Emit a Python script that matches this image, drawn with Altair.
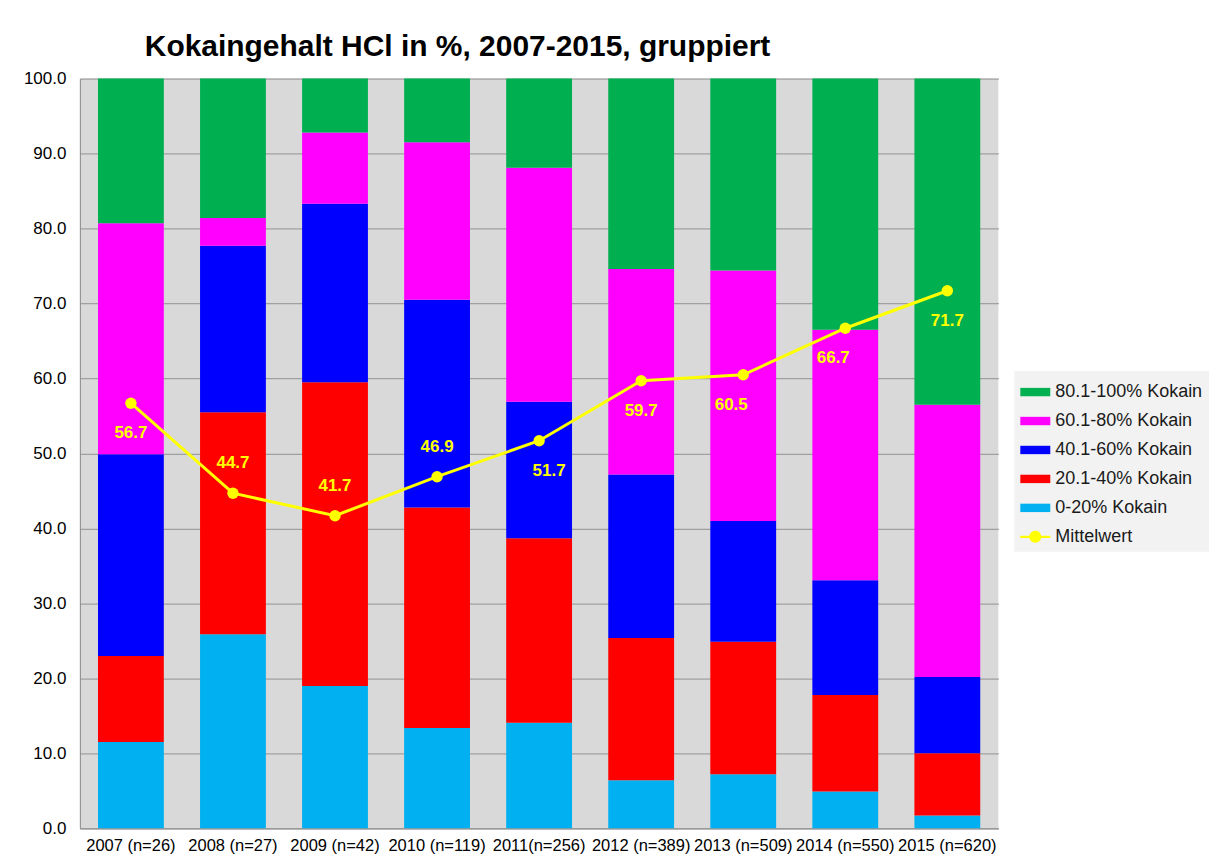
import altair as alt
import pandas as pd

# ---------------- data ----------------
years = ["2007 (n=26)", "2008 (n=27)", "2009 (n=42)", "2010 (n=119)", "2011(n=256)",
         "2012 (n=389)", "2013 (n=509)", "2014 (n=550)", "2015 (n=620)"]
p0_20 = [11.5, 25.9, 19.0, 13.4, 14.1, 6.4, 7.2, 4.9, 1.7]
p20_40 = [11.5, 29.6, 40.5, 29.4, 24.6, 19.0, 17.7, 12.9, 8.3]
p40_60 = [26.9, 22.2, 23.8, 27.7, 18.2, 21.8, 16.1, 15.3, 10.2]
p60_80 = [30.8, 3.7, 9.5, 21.0, 31.2, 27.4, 33.4, 33.4, 36.3]
p80_100 = [19.3, 18.6, 7.2, 8.5, 11.9, 25.4, 25.6, 33.5, 43.5]
mittelwert = [56.7, 44.7, 41.7, 46.9, 51.7, 59.7, 60.5, 66.7, 71.7]
label_place = ["below", "above", "above", "above", "below_r", "below", "below_l", "below_l", "below"]

categories = ["0-20% Kokain", "20.1-40% Kokain", "40.1-60% Kokain",
              "60.1-80% Kokain", "80.1-100% Kokain"]
cat_colors = ["#00b0f0", "#ff0000", "#0000ff", "#ff00ff", "#00b050"]
mean_name = "Mittelwert"
mean_color = "#ffff00"

title_text = "Kokaingehalt HCl in %, 2007-2015, gruppiert"

# ---------------- tables ----------------
series = [p0_20, p20_40, p40_60, p60_80, p80_100]
rows = []
for ci, (cat, vals) in enumerate(zip(categories, series)):
    for y, v in zip(years, vals):
        rows.append({"year": y, "cat": cat, "value": v, "order": ci})
bars_df = pd.DataFrame(rows)
mean_df = pd.DataFrame({"year": years, "mean": mittelwert, "place": label_place})

legend_domain = categories[::-1] + [mean_name]
legend_colors = cat_colors[::-1] + [mean_color]
rect_path = "M-1,-0.28H1V0.28H-1Z"
mean_path = "M-1,-0.08H1V0.08H-1Z M0.4,0A0.4,0.4,0,1,1,-0.4,0A0.4,0.4,0,1,1,0.4,0Z"
legend_shapes = [rect_path] * 5 + [mean_path]

FONT = "Liberation Sans"

x_enc = alt.X("year:N", sort=years, title=None,
              scale=alt.Scale(paddingInner=0.355, paddingOuter=0.1775),
              axis=alt.Axis(labelAngle=0, labelAlign="center", labelBaseline="top",
                            labelFontSize=16.5, labelColor="#000000",
                            labelFont=FONT, ticks=False, labelPadding=9,
                            domainColor="#8c8c8c", labelOverlap=False, labelLimit=0,
                            grid=False))
y_scale = alt.Scale(domain=[0, 100], nice=False)
y_axis = alt.Axis(values=list(range(0, 101, 10)), format=".1f", labelFontSize=17,
                  labelFont=FONT, labelColor="#000000", ticks=False, labelPadding=14,
                  domainColor="#8c8c8c", gridColor="#a0a0a0", gridWidth=1.2, title=None)

legend_kw = dict(title=None, orient="none", legendX=936, legendY=293,
                 fillColor="#f2f2f2", padding=6, rowPadding=5,
                 symbolSize=900, symbolOpacity=1, symbolStrokeWidth=0,
                 labelFontSize=18, labelFont=FONT, labelColor="#1a1a1a",
                 labelOffset=5, labelLimit=0)

bars = alt.Chart(bars_df).mark_bar(strokeWidth=0).encode(
    x=x_enc,
    y=alt.Y("sum(value):Q", scale=y_scale, axis=y_axis, stack="zero"),
    color=alt.Color("cat:N", scale=alt.Scale(domain=categories, range=cat_colors), legend=None),
    order=alt.Order("order:Q", sort="ascending"),
)

legend_layer = alt.Chart(bars_df).mark_point(filled=True, opacity=0).encode(
    x=alt.X("year:N", sort=years),
    y=alt.Y("value:Q", scale=y_scale),
    color=alt.Color("cat:N", scale=alt.Scale(domain=legend_domain, range=legend_colors),
                    legend=alt.Legend(**legend_kw)),
    shape=alt.Shape("cat:N", scale=alt.Scale(domain=legend_domain, range=legend_shapes),
                    legend=alt.Legend(**legend_kw)),
)

mean_base = alt.Chart(mean_df).encode(
    x=alt.X("year:N", sort=years),
    y=alt.Y("mean:Q", scale=y_scale),
)
line = mean_base.mark_line(color=mean_color, strokeWidth=3)
pts = mean_base.mark_circle(color=mean_color, size=130, opacity=1)

offsets = {"above": (0, -30), "below": (0, 30), "below_l": (-12, 30), "below_r": (10, 30)}
texts = []
for place, (dx, dy) in offsets.items():
    texts.append(
        mean_base.transform_filter(alt.datum.place == place).mark_text(
            color=mean_color, fontSize=17, fontWeight="bold", font=FONT,
            dx=dx, dy=dy, baseline="middle", align="center"
        ).encode(text=alt.Text("mean:Q", format=".1f"))
    )

chart = alt.layer(legend_layer, bars, line, pts, *texts).resolve_scale(
    color="independent", shape="independent"
).properties(
    width=920, height=751,
    title=alt.TitleParams(title_text, anchor="start", frame="group", dx=65, offset=8,
                          fontSize=30, font=FONT, fontWeight="bold", color="#000000"),
    padding={"left": 15, "top": 23, "right": 5, "bottom": 5},
).configure_view(
    fill="#d9d9d9", stroke=None
)

chart.save("out.html", embed_options={"renderer": "svg", "actions": False})
